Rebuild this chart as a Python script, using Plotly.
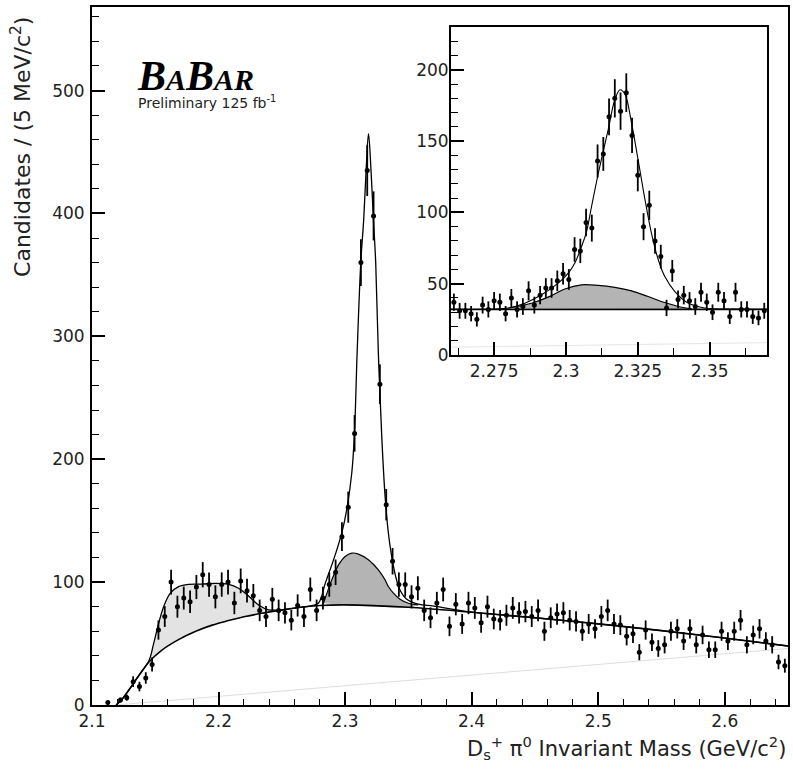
import numpy as np
import plotly.graph_objects as go

# main histogram: 5 MeV bins from 2.10 to 2.65 GeV
main_lo, main_bw = 2.1, 0.005
main_counts = [None, None, 2, None, 4, 6, 19, 15, 22, 33,
               61, 72, 100, 80, 87, 84, 96, 106, 98, 88,
               98, 100, 83, 101, 93, 89, 77, 72, 86, 77,
               75, 69, 81, 72, 94, 77, 87, 98, 108, 137,
               161, 221, 360, 435, 398, 261, 163, 117, 98, 98,
               88, 95, 77, 71, 83, 94, 64, 82, 66, 83,
               79, 67, 80, 70, 69, 73, 79, 75, 76, 72,
               77, 60, 71, 74, 75, 69, 68, 60, 66, 62,
               72, 77, 66, 65, 56, 58, 43, 61, 51, 46,
               49, 60, 62, 52, 62, 49, 57, 45, 45, 60,
               52, 60, 69, 49, 57, 62, 52, 49, 35, 32]

# inset histogram: 2 MeV bins from 2.26 to 2.37 GeV
inset_lo, inset_bw = 2.26, 0.002
inset_counts = [37, 31, 31, 29, 25, 35, 32, 38, 37, 29,
                40, 32, 34, 45, 35, 42, 47, 47, 52, 57,
                53, 74, 73, 93, 89, 136, 141, 167, 180, 171,
                184, 154, 126, 90, 105, 80, 69, 33, 59, 39,
                42, 38, 34, 44, 37, 30, 44, 38, 27, 44,
                32, 32, 27, 26, 31]

# fit curves (mass, candidates)
bkg_m = [2.119, 2.124, 2.129, 2.137, 2.145, 2.155, 2.168, 2.182, 2.195, 2.208, 2.221,
         2.234, 2.247, 2.263, 2.28, 2.30, 2.35, 2.40, 2.45, 2.50, 2.55, 2.60, 2.65]
bkg_v = [0, 5, 12, 24, 35, 44.5, 53, 60, 65, 68.7, 72,
         74.6, 76.8, 79.3, 81, 81.5, 79.5, 75.5, 71, 66, 60.5, 54.5, 48]

fit_m = [2.119, 2.124, 2.129, 2.137, 2.145, 2.1487, 2.1527, 2.1566, 2.1619, 2.1684, 2.1763,
         2.1868, 2.1974, 2.2079, 2.2158, 2.2237, 2.2316, 2.2395, 2.2474, 2.2632, 2.272,
         2.279, 2.2843, 2.2895, 2.2934, 2.2974, 2.3013, 2.3053, 2.3074, 2.3095, 2.3124,
         2.3147, 2.3166, 2.3185, 2.3205, 2.3224, 2.3242, 2.3263, 2.329, 2.3316, 2.3342,
         2.3368, 2.34, 2.3434, 2.3487, 2.3579, 2.37, 2.40, 2.45, 2.50, 2.55, 2.60, 2.65]
fit_v = [0, 5, 12, 24, 36, 50, 66.5, 80, 91, 96.3, 98.2,
         98.4, 99, 98.2, 95, 88.7, 81.4, 77.5, 77.3, 79.3, 80.5,
         83, 99, 114, 126, 140, 159, 189, 221, 286, 360,
         395, 435, 465, 435, 395, 360, 286, 218, 170, 140,
         121, 104.5, 93.6, 86, 82, 80.5, 75.5, 71, 66, 60.5, 54.5, 48]

dstar_m = [2.2829, 2.2895, 2.2948, 2.3, 2.3053, 2.3105, 2.3184, 2.3263, 2.3316, 2.3342,
           2.3382, 2.3434, 2.35, 2.3579]
dstar_v = [82.8, 101.8, 114, 120.9, 123.6, 122.8, 118.2, 110, 101.8, 96.4,
           91, 86, 82.8, 81.4]

faint_m = [2.119, 2.65]
faint_v = [0, 46]

# inset curves
ins_bkg_m = [2.26, 2.37]
ins_bkg_v = [32, 32]
ins_fit_m = [2.26, 2.275, 2.28, 2.2857, 2.2915, 2.2973, 2.3008, 2.3031, 2.3054, 2.3071,
             2.3089, 2.311, 2.3147, 2.317, 2.3188, 2.3205, 2.3228, 2.3251, 2.3275, 2.3298,
             2.3321, 2.3344, 2.3379, 2.3425, 2.3483, 2.36, 2.37]
ins_fit_v = [32, 32.2, 33, 36.3, 42.2, 50.4, 57.4, 64.5, 76, 86,
             104, 125, 158, 179, 186, 183, 163, 137, 109, 85,
             67, 55, 44.5, 36.5, 33, 32.2, 32]
ins_dstar_m = [2.2799, 2.288, 2.2938, 2.2996, 2.3054, 2.3112, 2.317, 2.3228, 2.3286, 2.3344,
               2.3402, 2.3437]
ins_dstar_v = [32.8, 36.3, 40.6, 46.3, 49.2, 48.8, 47.4, 45, 41, 36.8,
               33.5, 32.4]
ins_faint_m = [2.26, 2.37]
ins_faint_v = [5.5, 8.7]

LIGHT = '#e3e3e3'
DARK = '#b4b4b4'
FONT = 'DejaVu Sans'


def hist_xy(lo, bw, counts):
    x = lo + bw * (np.arange(len(counts)) + 0.5)
    y = np.array([np.nan if c is None else c for c in counts], dtype=float)
    return x, y, np.sqrt(y)


def segment(ms, vs, lo, hi):
    pts = [(m, v) for m, v in zip(ms, vs) if lo <= m <= hi]
    return [p[0] for p in pts], [p[1] for p in pts]


def band(fig, top_m, top_v, base_m, base_v, color, xa, ya):
    lo, hi = top_m[0], top_m[-1]
    inner = [(m, v) for m, v in zip(base_m, base_v) if lo < m < hi]
    # base follows the background, closed with the band's own end points
    bm = [lo] + [p[0] for p in inner] + [hi]
    bv = [top_v[0]] + [p[1] for p in inner] + [top_v[-1]]
    fig.add_trace(go.Scatter(x=bm, y=bv, mode='lines', line=dict(width=0, shape='spline'),
                             xaxis=xa, yaxis=ya, hoverinfo='skip'))
    fig.add_trace(go.Scatter(x=top_m, y=top_v, mode='lines', fill='tonexty', fillcolor=color,
                             line=dict(width=0, shape='spline'), xaxis=xa, yaxis=ya,
                             hoverinfo='skip'))


fig = go.Figure()

# ---------- main plot ----------
fig.add_trace(go.Scatter(x=faint_m, y=faint_v, mode='lines',
                         line=dict(color='#dedede', width=1)))
lm, lv = segment(fit_m, fit_v, 2.145, 2.2632)
band(fig, lm, lv, bkg_m, bkg_v, LIGHT, 'x', 'y')
band(fig, dstar_m, dstar_v, bkg_m, bkg_v, DARK, 'x', 'y')
fig.add_trace(go.Scatter(x=dstar_m, y=dstar_v, mode='lines',
                         line=dict(color='black', width=1.2, shape='spline')))
fig.add_trace(go.Scatter(x=bkg_m, y=bkg_v, mode='lines',
                         line=dict(color='black', width=1.6, shape='spline')))
fig.add_trace(go.Scatter(x=fit_m, y=fit_v, mode='lines',
                         line=dict(color='black', width=1.3, shape='spline')))
mx, my, me = hist_xy(main_lo, main_bw, main_counts)
fig.add_trace(go.Scatter(x=mx, y=my, mode='markers',
                         marker=dict(color='black', size=5),
                         error_y=dict(type='data', array=me, color='black',
                                      thickness=1.8, width=0)))

# ---------- inset ----------
fig.add_trace(go.Scatter(x=ins_faint_m, y=ins_faint_v, mode='lines',
                         line=dict(color='#e6e6e6', width=1), xaxis='x2', yaxis='y2'))
band(fig, ins_dstar_m, ins_dstar_v, ins_bkg_m, ins_bkg_v, DARK, 'x2', 'y2')
fig.add_trace(go.Scatter(x=ins_dstar_m, y=ins_dstar_v, mode='lines', xaxis='x2', yaxis='y2',
                         line=dict(color='black', width=1.2, shape='spline')))
fig.add_trace(go.Scatter(x=ins_bkg_m, y=ins_bkg_v, mode='lines', xaxis='x2', yaxis='y2',
                         line=dict(color='black', width=1.8)))
fig.add_trace(go.Scatter(x=ins_fit_m, y=ins_fit_v, mode='lines', xaxis='x2', yaxis='y2',
                         line=dict(color='black', width=1.1, shape='spline')))
ix, iy, ie = hist_xy(inset_lo, inset_bw, inset_counts)
fig.add_trace(go.Scatter(x=ix, y=iy, mode='markers', xaxis='x2', yaxis='y2',
                         marker=dict(color='black', size=5),
                         error_y=dict(type='data', array=ie, color='black',
                                      thickness=1.8, width=0)))

axis_common = dict(showline=True, linecolor='black', linewidth=2, mirror=True,
                   ticks='inside', tickwidth=1.5, tickcolor='black', ticklen=13,
                   showgrid=False, zeroline=False,
                   tickfont=dict(family=FONT, size=17, color='#222'))

inset_xticks = [2.275, 2.3, 2.325, 2.35]
inset_xlabels = ['2.275', '2.3', '2.325', '2.35']

logo = ("<span style='font-family:Liberation Serif;font-size:42px;font-weight:bold;"
        "font-style:italic;fill:black'>B<span style='font-size:30px'>A</span>B"
        "<span style='font-size:30px'>AR</span></span><br>"
        "Preliminary 125 fb<sup>-1</sup>")

fig.update_layout(
    width=793, height=770,
    margin=dict(l=92, r=3, t=7, b=65),
    paper_bgcolor='white', plot_bgcolor='white',
    showlegend=False,
    xaxis=dict(axis_common, range=[2.1, 2.65], tick0=2.1, dtick=0.1,
               minor=dict(ticks='inside', ticklen=6, tickwidth=1.2, dtick=0.02,
                          tickcolor='black', showgrid=False)),
    yaxis=dict(axis_common, range=[0, 568], tick0=0, dtick=100, ticklabelstandoff=2,
               minor=dict(ticks='inside', ticklen=7, tickwidth=1.2, dtick=20,
                          tickcolor='black', showgrid=False)),
    xaxis2=dict(axis_common, domain=[0.5158, 0.970], anchor='y2', range=[2.26, 2.37],
                tickvals=inset_xticks, ticktext=inset_xlabels,
                minor=dict(ticks='inside', ticklen=7, tickwidth=1.2, tick0=2.2625,
                           dtick=0.0125, tickcolor='black', showgrid=False)),
    yaxis2=dict(axis_common, domain=[0.5014, 0.9713], anchor='x2', range=[0, 230],
                tick0=0, dtick=50, ticklabelstandoff=-3,
                minor=dict(ticks='inside', ticklen=7, tickwidth=1.2, dtick=10,
                           tickcolor='black', showgrid=False)),
    annotations=[
        dict(text=logo, align='left',
             x=0.062, y=0.8487, xref='paper', yref='paper', xanchor='left', yanchor='bottom',
             showarrow=False, font=dict(family=FONT, size=14, color='#222')),
        dict(text='D<sub>s</sub><sup>+</sup> π<sup>0</sup> Invariant Mass (GeV/c<sup>2</sup>)',
             x=1.0, y=-0.062, xref='paper', yref='paper', xanchor='right', yanchor='middle',
             showarrow=False, font=dict(family=FONT, size=21, color='#222')),
        dict(text='Candidates / (5 MeV/c<sup>2</sup>)', textangle=-90,
             x=-0.103, y=0.80, xref='paper', yref='paper', xanchor='center', yanchor='middle',
             showarrow=False, font=dict(family=FONT, size=22, color='#222')),
    ],
)

fig.write_html("out.html", config={'displayModeBar': False},
               post_script="document.body.style.margin='0';")
